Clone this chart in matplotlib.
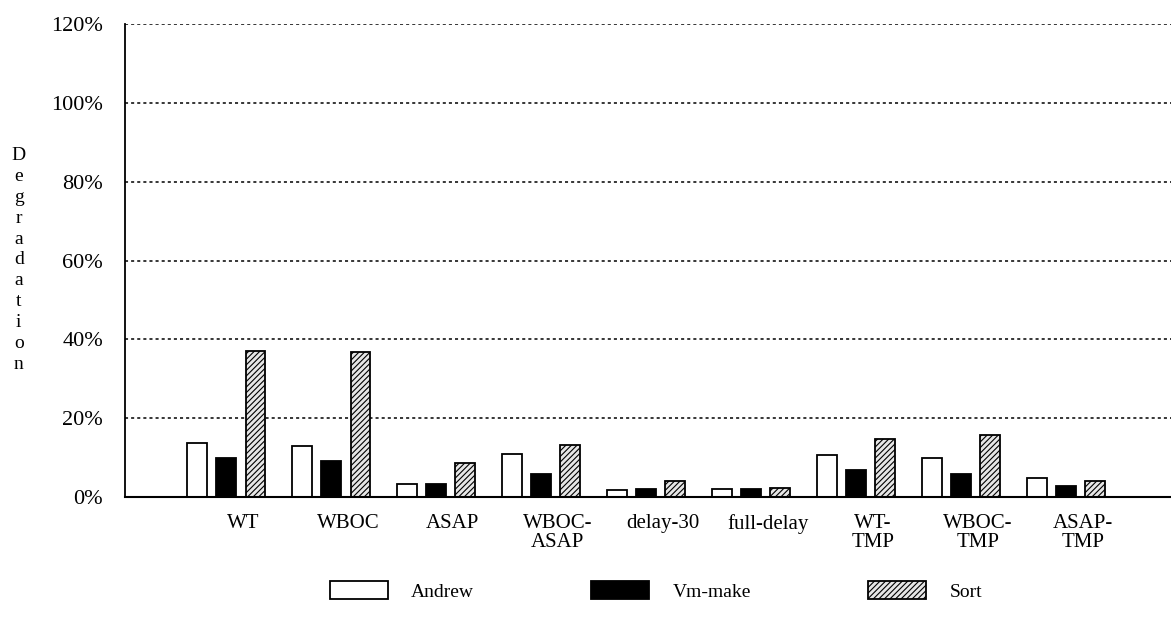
import numpy as np
import matplotlib.pyplot as plt

plt.rcParams['font.family'] = ['Liberation Serif', 'DejaVu Serif']
plt.rcParams['hatch.linewidth'] = 0.8

# data (percent degradation)
categories = ["WT", "WBOC", "ASAP", "WBOC-\nASAP", "delay-30", "full-delay",
              "WT-\nTMP", "WBOC-\nTMP", "ASAP-\nTMP"]
andrew = [13.7, 12.9, 3.3, 10.9, 1.8, 2.0, 10.6, 9.9, 4.8]
vm_make = [9.9, 9.1, 3.3, 5.8, 2.0, 2.0, 6.8, 5.8, 2.8]
sort = [37.0, 36.8, 8.6, 13.2, 4.0, 2.3, 14.7, 15.7, 4.0]
yticks = [0, 20, 40, 60, 80, 100, 120]

fig = plt.figure(figsize=(11.71, 6.19), dpi=100)
ax = fig.add_axes([0.107, 0.197, 0.893, 0.764])

x = np.arange(len(categories))
w = 0.19
step = 0.28
ax.bar(x - step, andrew, w, color='white', edgecolor='black', linewidth=1.3, label="Andrew")
ax.bar(x, vm_make, w, color='black', edgecolor='black', linewidth=1.3, label="Vm-make")
ax.bar(x + step, sort, w, color='#e6e6e6', edgecolor='black', linewidth=1.3,
       hatch='//////', label="Sort")

# dotted gridlines
for v in yticks[1:]:
    ax.axhline(v, color='black', linestyle=(0, (2, 2)), linewidth=1.1, zorder=0)

ax.set_xlim(-0.96, 9.0)
ax.set_ylim(0, 120)
ax.set_yticks(yticks)
ax.set_yticklabels(["%d%%" % v for v in yticks], fontsize=16)
ax.set_xticks(x + 0.16)
ax.set_xticklabels(categories, fontsize=15, linespacing=1.05)
ax.tick_params(length=0)
ax.tick_params(axis='y', pad=16)
ax.tick_params(axis='x', pad=12)
for s in ['top', 'right']:
    ax.spines[s].set_visible(False)
ax.spines['left'].set_linewidth(1.3)
ax.spines['bottom'].set_linewidth(1.5)

# vertical stacked y label
fig.text(0.016, 0.58, "\n".join("Degradation"), fontsize=14, ha='center', va='center',
         linespacing=1.3)

fig.legend(loc='center', bbox_to_anchor=(0.56, 0.045), ncol=3, frameon=False,
           fontsize=14, handlelength=3.0, handleheight=1.0, columnspacing=6.0,
           handletextpad=1.2)

plt.savefig("out.png", dpi=100)
